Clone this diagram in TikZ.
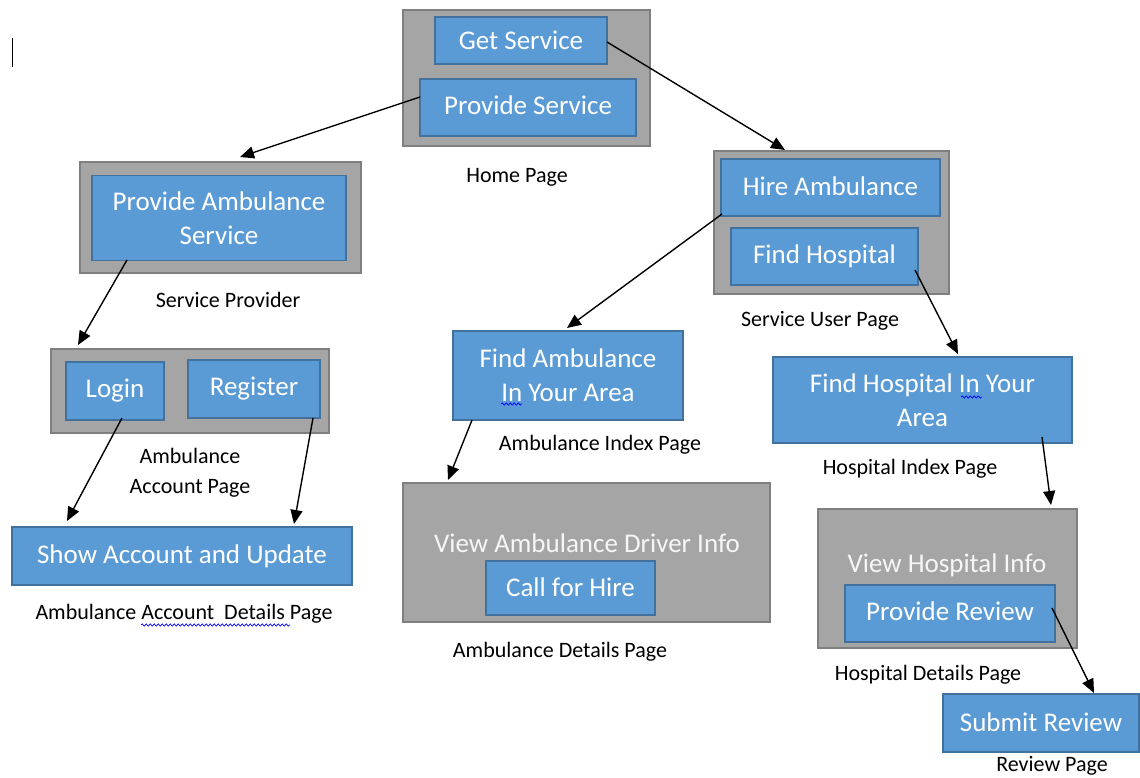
\documentclass[tikz,border=0pt]{standalone}
\usepackage{fontspec}
\setmainfont{Carlito}
\usetikzlibrary{arrows.meta,decorations.pathmorphing}
\definecolor{boxblue}{HTML}{5B9BD5}
\definecolor{boxblueline}{HTML}{41719C}
\definecolor{pagegray}{HTML}{A5A5A5}
\definecolor{pagegrayline}{HTML}{7F7F7F}
\tikzset{
  bluebox/.style={draw=boxblueline, fill=boxblue, line width=1.2pt, inner sep=0pt, text=white, align=center, font=\fontsize{27}{34}\selectfont},
  graybox/.style={draw=pagegrayline, fill=pagegray, line width=1.2pt, inner sep=0pt},
  graytext/.style={text=white!93!gray, font=\fontsize{27}{32}\selectfont, inner sep=0pt},
  pagelabel/.style={font=\fontsize{22}{30}\selectfont, align=center, inner sep=0pt},
  flow/.style={line width=1.4pt, -{Triangle[length=14pt,width=12pt]}},
  squiggle/.style={draw=blue, line width=0.7pt, decorate, decoration={snake, amplitude=1.1pt, segment length=4pt}}
}
\begin{document}
\begin{tikzpicture}[x=1pt,y=-1pt]
\useasboundingbox (0,0) rectangle (1140,778);
% text cursor
\draw[line width=1pt] (12,38) -- (12,67);
% Home page
\node[graybox, minimum width=247pt, minimum height=136pt] (home) at (526.5,78) {};
\node[bluebox, minimum width=172pt, minimum height=47pt] (getsvc) at (521,40.5) {Get Service};
\node[bluebox, minimum width=216pt, minimum height=57pt] (provsvc) at (528,107.5) {\raisebox{4pt}{Provide Service}};
\node[pagelabel] (homelbl) at (517,177) {Home Page};
% Service provider
\node[graybox, minimum width=281pt, minimum height=111pt] (provpage) at (220.5,217.5) {};
\node[bluebox, minimum width=254pt, minimum height=85pt] (provamb) at (219,218) {Provide Ambulance\\Service};
\node[pagelabel] (provlbl) at (228,300) {Service Provider};
% Ambulance account page
\node[graybox, minimum width=278pt, minimum height=84pt] (accpage) at (190,391) {};
\node[bluebox, minimum width=98pt, minimum height=58pt] (login) at (115,391) {\raisebox{2pt}{Login}};
\node[bluebox, minimum width=132pt, minimum height=58pt] (register) at (254,389) {Register};
\node[pagelabel] (acclbl) at (190,473) {Ambulance\\Account Page};
% Ambulance account details page
\node[bluebox, minimum width=340pt, minimum height=58pt] (showacc) at (182,556) {\raisebox{2pt}{Show Account and Update}};
\node[pagelabel] (showlbl) at (184,614) {Ambulance Account\ \ Details Page};
\draw[squiggle] (141,625) -- (290,625);
% Service user page
\node[graybox, minimum width=235pt, minimum height=143pt] (userpage) at (831.5,222.5) {};
\node[bluebox, minimum width=219pt, minimum height=57pt] (hire) at (830.5,187.5) {\raisebox{3pt}{Hire Ambulance}};
\node[bluebox, minimum width=187pt, minimum height=57pt] (findhosp) at (824.5,256.5) {\raisebox{3pt}{Find Hospital}};
\node[pagelabel] (userlbl) at (820,321) {Service User Page};
% Ambulance index page
\node[bluebox, minimum width=230pt, minimum height=89pt] (findamb) at (568,375.5) {Find Ambulance\\In Your Area};
\draw[squiggle] (501,404) -- (522,404);
\node[pagelabel] (amblbl) at (600,445) {Ambulance Index Page};
% Ambulance details page
\node[graybox, minimum width=367pt, minimum height=139pt] (ambdet) at (586.5,552.5) {};
\node[graytext] (ambinfo) at (587,543) {View Ambulance Driver Info};
\node[bluebox, minimum width=169pt, minimum height=54pt] (callhire) at (570.5,588) {\raisebox{2pt}{Call for Hire}};
\node[pagelabel] (ambdetlbl) at (560,652) {Ambulance Details Page};
% Hospital index page
\node[bluebox, minimum width=299pt, minimum height=86pt] (hosparea) at (922.5,400) {Find Hospital In Your\\Area};
\draw[squiggle] (961,397) -- (982,397);
\node[pagelabel] (hosplbl) at (910,469) {Hospital Index Page};
% Hospital details page
\node[graybox, minimum width=259pt, minimum height=139pt] (hospdet) at (947.5,578.5) {};
\node[graytext] (hospinfo) at (947,565) {View Hospital Info};
\node[bluebox, minimum width=210pt, minimum height=57pt] (review) at (950,613.5) {\raisebox{4pt}{Provide Review}};
\node[pagelabel] (hospdetlbl) at (928,675) {Hospital Details Page};
% Review page
\node[bluebox, minimum width=196pt, minimum height=58pt] (submit) at (1041,723) {\raisebox{2pt}{Submit Review}};
\node[pagelabel] (reviewlbl) at (1052,766) {Review Page};
% connector ends
\coordinate (s1) at (607,42);   \coordinate (e1) at (785,150);
\coordinate (s2) at (420,97);   \coordinate (e2) at (240,157);
\coordinate (s3) at (127,260);  \coordinate (e3) at (78,345);
\coordinate (s4) at (122,418);  \coordinate (e4) at (67,521);
\coordinate (s5) at (313,418);  \coordinate (e5) at (294,524);
\coordinate (s6) at (722,214);  \coordinate (e6) at (567,328);
\coordinate (s7) at (915,270);  \coordinate (e7) at (958,354);
\coordinate (s8) at (472,420);  \coordinate (e8) at (448,480);
\coordinate (s9) at (1042,437); \coordinate (e9) at (1051,505);
\coordinate (s10) at (1052,608);\coordinate (e10) at (1094,693);
\draw[flow] (s1) -- (e1);
\draw[flow] (s2) -- (e2);
\draw[flow] (s3) -- (e3);
\draw[flow] (s4) -- (e4);
\draw[flow] (s5) -- (e5);
\draw[flow] (s6) -- (e6);
\draw[flow] (s7) -- (e7);
\draw[flow] (s8) -- (e8);
\draw[flow] (s9) -- (e9);
\draw[flow] (s10) -- (e10);
\end{tikzpicture}
\end{document}
